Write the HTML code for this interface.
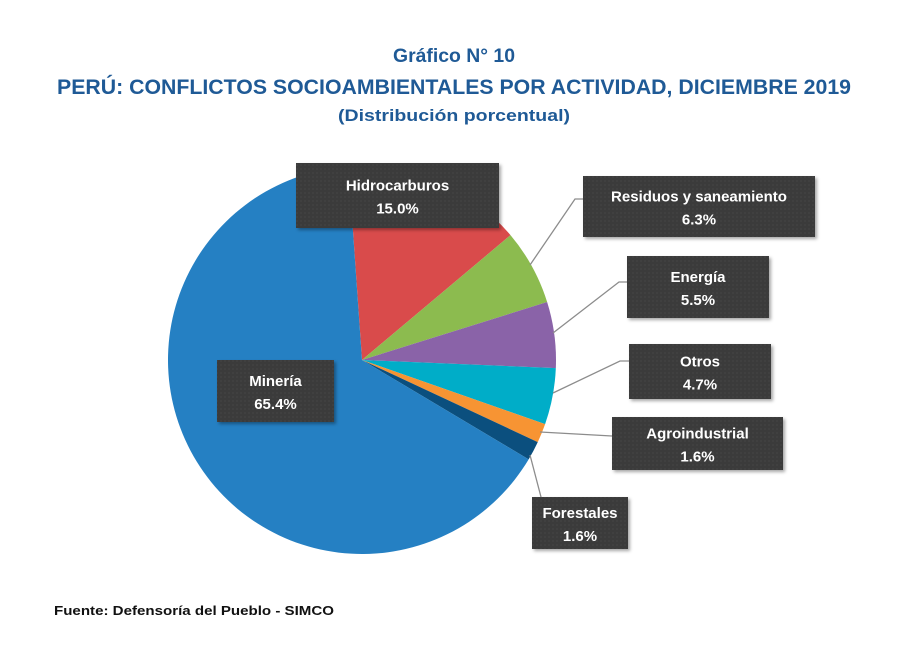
<!DOCTYPE html>
<html><head><meta charset="utf-8"><style>
body{margin:0;background:#fff;}
svg{display:block;font-family:"Liberation Sans",sans-serif;}
</style></head><body>
<svg id="chart" width="900" height="652" viewBox="0 0 900 652">
<defs>
<pattern id="dots" width="4" height="4" patternUnits="userSpaceOnUse"><rect width="4" height="4" fill="#3b3b3b"/><circle cx="1" cy="1" r="0.6" fill="#4a4a4a"/></pattern>
<filter id="sh" x="-10%" y="-10%" width="130%" height="140%"><feDropShadow dx="2" dy="2" stdDeviation="1.5" flood-color="#000" flood-opacity="0.35"/></filter>
</defs>
<text x="454" y="62" text-anchor="middle" font-size="19" font-weight="bold" fill="#1f5a96" textLength="122" lengthAdjust="spacingAndGlyphs">Gráfico N° 10</text>
<text x="454" y="94" text-anchor="middle" font-size="21" font-weight="bold" fill="#1f5a96" textLength="794" lengthAdjust="spacingAndGlyphs">PERÚ: CONFLICTOS SOCIOAMBIENTALES POR ACTIVIDAD, DICIEMBRE 2019</text>
<text x="454" y="121" text-anchor="middle" font-size="17" font-weight="bold" fill="#1f5a96" textLength="232" lengthAdjust="spacingAndGlyphs">(Distribución porcentual)</text>
<g id="slices"></g>
<g id="labels"></g>
<text x="54" y="615" font-size="13" font-weight="bold" fill="#111" textLength="280" lengthAdjust="spacingAndGlyphs">Fuente: Defensoría del Pueblo - SIMCO</text>
</svg>
<script>
const categories=["Hidrocarburos","Residuos y saneamiento","Energía","Otros","Agroindustrial","Forestales","Minería"];
const values=[15.0,6.3,5.5,4.7,1.6,1.6,65.4];
const colors=["#d94b4b","#8cbb4f","#8a63a8","#00adc8","#f79433","#0b4f7e","#2580c3"];
const cx=362,cy=360,r=194,startDeg=-4;
const boxes=[[296,163,203,65],[583,176,232,61],[627,256,142,62],[629,344,142,55],[612,417,171,53],[532,497,96,52],[217,360,117,62]];
const leaders=[null,[[530,265],[575,199],[583,199]],[[553,333],[619,282],[627,282]],[[553,393],[620,361],[629,361]],[[540,432],[612,436]],[[530,455],[541,497]],null];
const NS="http://www.w3.org/2000/svg";
const total=values.reduce((a,b)=>a+b,0);
const gs=document.getElementById('slices'),gl=document.getElementById('labels');
let a=startDeg;
function pt(d){const t=(d-90)*Math.PI/180;return [cx+r*Math.cos(t),cy+r*Math.sin(t)];}
values.forEach((v,i)=>{
  const s=a,e=a+v/total*360;a=e;
  const p1=pt(s),p2=pt(e);
  const p=document.createElementNS(NS,'path');
  p.setAttribute('d',`M${cx},${cy}L${p1[0]},${p1[1]}A${r},${r} 0 ${e-s>180?1:0} 1 ${p2[0]},${p2[1]}Z`);
  p.setAttribute('fill',colors[i]);
  
  
  gs.appendChild(p);
});
categories.forEach((c,i)=>{
  if(leaders[i]){
    const l=document.createElementNS(NS,'polyline');
    l.setAttribute('points',leaders[i].map(q=>q.join(',')).join(' '));
    l.setAttribute('fill','none');l.setAttribute('stroke','#8c8c8c');l.setAttribute('stroke-width','1.3');
    
    
    gl.appendChild(l);
  }
  const [x,y,w,h]=boxes[i];
  const g=document.createElementNS(NS,'g');
  
  
  const rc=document.createElementNS(NS,'rect');
  rc.setAttribute('x',x);rc.setAttribute('y',y);rc.setAttribute('width',w);rc.setAttribute('height',h);
  rc.setAttribute('fill','url(#dots)');rc.setAttribute('filter','url(#sh)');
  g.appendChild(rc);
  const t1=document.createElementNS(NS,'text');
  t1.setAttribute('x',x+w/2);t1.setAttribute('y',y+h/2-5);t1.setAttribute('text-anchor','middle');
  t1.setAttribute('font-size','15');t1.setAttribute('font-weight','bold');t1.setAttribute('fill','#fff');
  t1.textContent=c;g.appendChild(t1);
  const t2=document.createElementNS(NS,'text');
  t2.setAttribute('x',x+w/2);t2.setAttribute('y',y+h/2+18);t2.setAttribute('text-anchor','middle');
  t2.setAttribute('font-size','15');t2.setAttribute('font-weight','bold');t2.setAttribute('fill','#fff');
  t2.textContent=values[i].toFixed(1)+'%';g.appendChild(t2);
  gl.appendChild(g);
});
</script>
</body></html>
